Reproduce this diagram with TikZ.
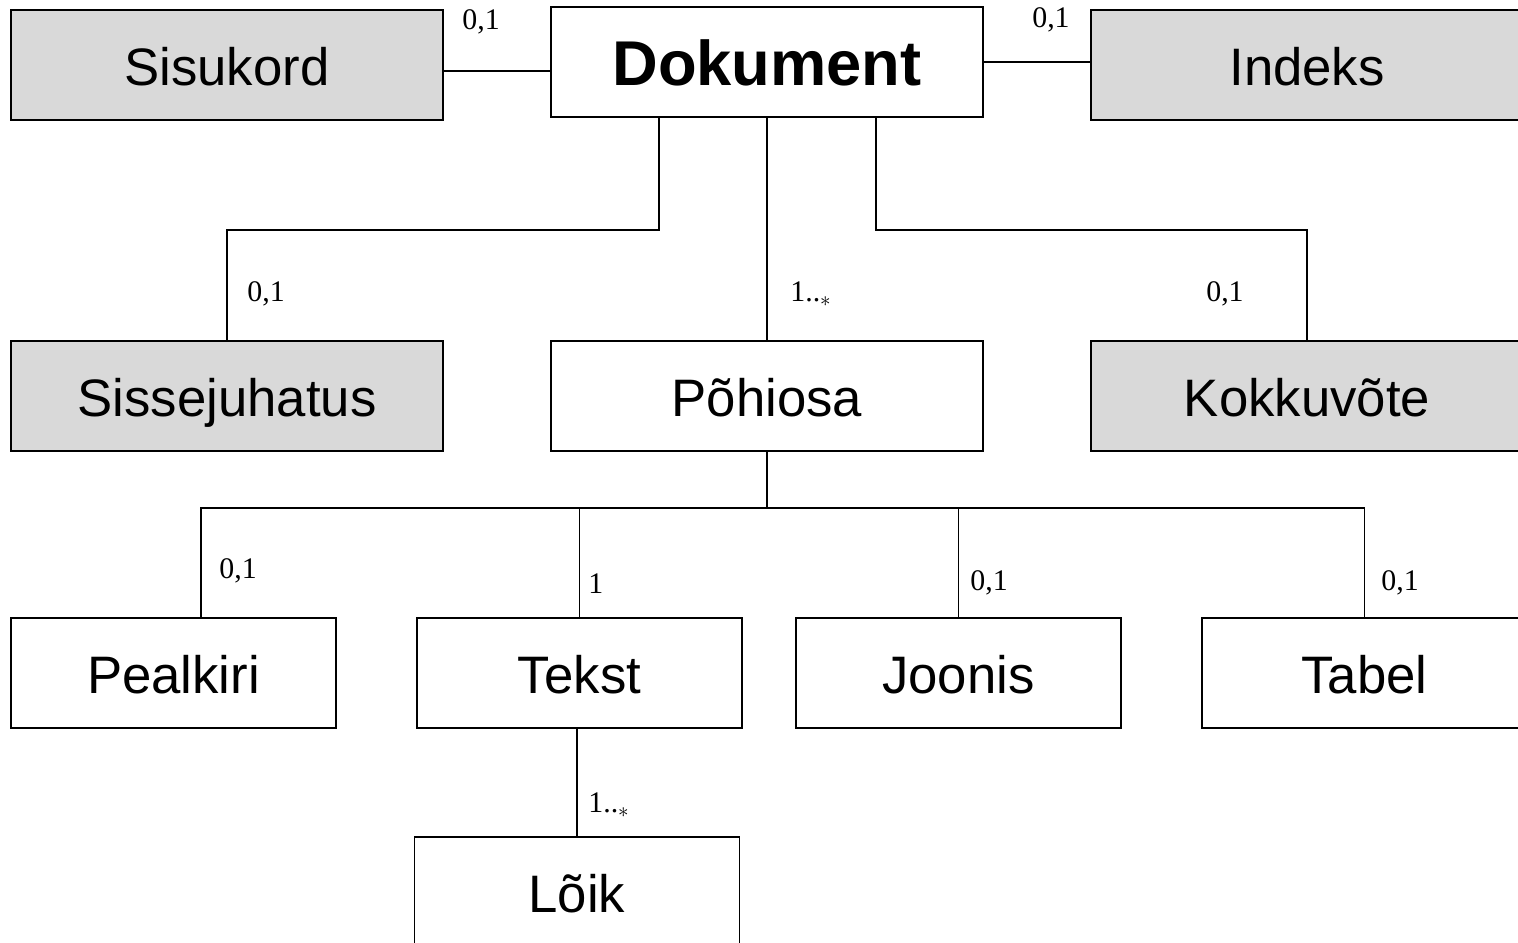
\documentclass[tikz,border=0pt]{standalone}
\usepackage{fontspec}
\setmainfont{Liberation Sans}
\newfontfamily\labelfont{Liberation Serif}
\usepackage{tikz}
\usetikzlibrary{positioning}
\definecolor{OptGray}{HTML}{D9D9D9}

\begin{document}
\begin{tikzpicture}
  \tikzset{PartNode/.style = {shape = rectangle, draw = black, line width = 0.8pt, fill = white, minimum width = 8.64cm, minimum height = 2.2cm, inner sep = 0pt, outer sep = 0pt, text height = 23pt, text depth = 0pt, font = \fontsize{30}{36}\selectfont}};
  \tikzset{OptNode/.style = {PartNode, fill = OptGray}};
  \tikzset{SmallNode/.style = {PartNode, minimum width = 6.5cm}};
  \tikzset{LinkStyle/.style = {black, line width = 0.6pt}};
  \tikzset{MultLabel/.style = {anchor = west, inner sep = 0pt, font = \labelfont\fontsize{17}{20}\selectfont}};

  \clip (0,0) rectangle (30.36,-18.86);

  \node[PartNode, text height = 27pt, font = \bfseries\fontsize{36}{42}\selectfont] (dokument) at (15.34,-1.24) {Dokument};
  \node[OptNode, left = 2.16cm of dokument, yshift = -0.06cm] (sisukord) {Sisukord};
  \node[OptNode, right = 2.16cm of dokument, yshift = -0.06cm] (indeks) {Indeks};
  \node[PartNode, below = 4.48cm of dokument] (pohiosa) {Põhiosa};
  \node[OptNode, left = 2.16cm of pohiosa] (sissejuhatus) {Sissejuhatus};
  \node[OptNode, right = 2.16cm of pohiosa] (kokkuvote) {Kokkuvõte};
  \node[SmallNode, below = 3.34cm of pohiosa, xshift = -3.75cm] (tekst) {Tekst};
  \node[SmallNode, left = 1.62cm of tekst] (pealkiri) {Pealkiri};
  \node[SmallNode, right = 1.08cm of tekst] (joonis) {Joonis};
  \node[SmallNode, right = 1.62cm of joonis] (tabel) {Tabel};
  \node[SmallNode, below = 2.18cm of tekst, xshift = -0.05cm] (loik) {Lõik};

  \draw[LinkStyle] ([yshift=-0.18cm]dokument.west) -- ([yshift=-0.18cm]dokument.west -| sisukord.east);
  \draw[LinkStyle] (dokument.east) -- (dokument.east -| indeks.west);
  \draw[LinkStyle] ([xshift=-2.16cm]dokument.south) -- ++(0,-2.26) -| (sissejuhatus.north);
  \draw[LinkStyle] (dokument.south) -- (pohiosa.north);
  \draw[LinkStyle] ([xshift=2.18cm]dokument.south) -- ++(0,-2.26) -| (kokkuvote.north);
  \coordinate (fork) at ([yshift=-1.14cm]pohiosa.south);
  \draw[LinkStyle] (pohiosa.south) -- (fork);
  \draw[LinkStyle] (fork) -| ([xshift=0.55cm]pealkiri.north);
  \draw[LinkStyle] (fork) -| (tekst.north);
  \draw[LinkStyle] (fork) -| (joonis.north);
  \draw[LinkStyle] (fork) -| (tabel.north);
  \draw[LinkStyle] (loik.north) -- (loik.north |- tekst.south);

  \node[MultLabel] (m sisukord) at ([shift={(0.38,-0.24)}]sisukord.north east) {0,1};
  \node[MultLabel, anchor = east] (m indeks) at ([shift={(-0.42,-0.20)}]indeks.north west) {0,1};
  \node[MultLabel] (m sissejuhatus) at ([shift={(0.40,0.94)}]sissejuhatus.north) {0,1};
  \node[MultLabel] (m pohiosa) at ([shift={(0.46,0.94)}]pohiosa.north) {1..$_\ast$};
  \node[MultLabel, anchor = east] (m kokkuvote) at ([shift={(-1.26,0.94)}]kokkuvote.north) {0,1};
  \node[MultLabel] (m pealkiri) at ([shift={(0.91,0.94)}]pealkiri.north) {0,1};
  \node[MultLabel] (m tekst) at ([shift={(0.17,0.68)}]tekst.north) {1};
  \node[MultLabel] (m joonis) at ([shift={(0.23,0.70)}]joonis.north) {0,1};
  \node[MultLabel] (m tabel) at ([shift={(0.33,0.70)}]tabel.north) {0,1};
  \node[MultLabel] (m loik) at ([shift={(0.22,0.64)}]loik.north) {1..$_\ast$};
\end{tikzpicture}
\end{document}
